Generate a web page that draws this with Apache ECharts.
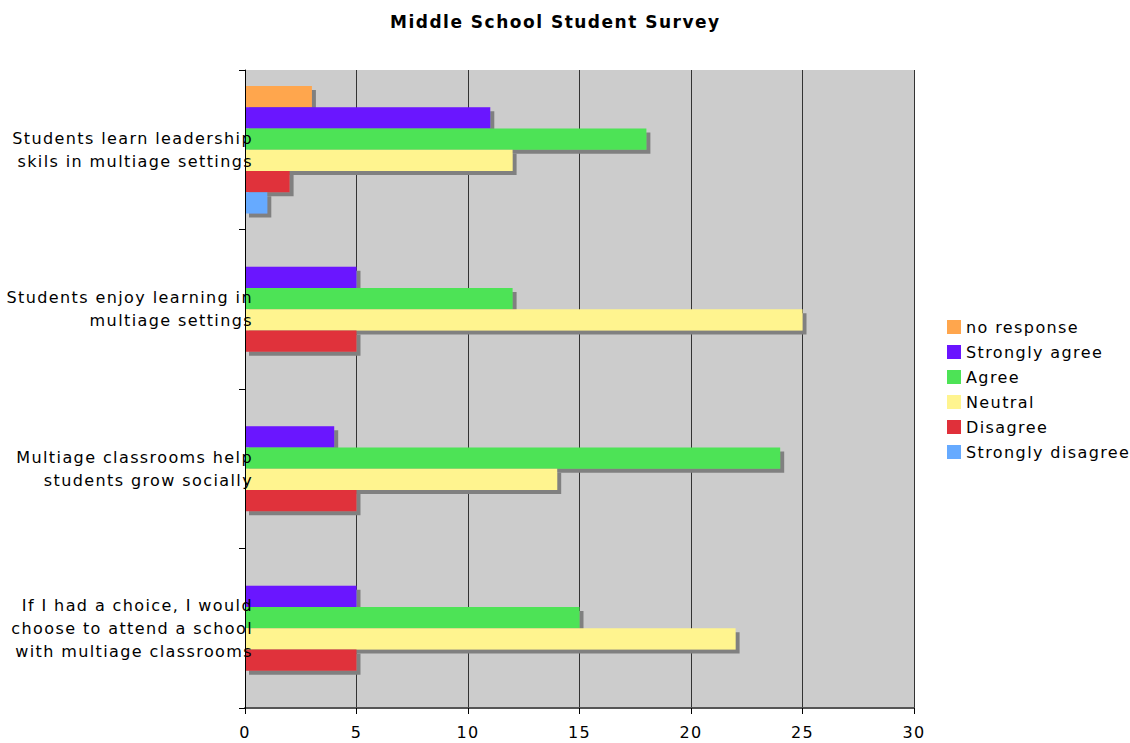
<!DOCTYPE html>
<html>
<head>
<meta charset="utf-8">
<script src="https://cdn.jsdelivr.net/npm/echarts@6/dist/echarts.min.js"></script>
<style>
html,body{margin:0;padding:0;background:#fff;}
#c{width:1130px;height:743px;}
#c svg text{letter-spacing:1.4px;}
#c svg text[style*="bold"], #c svg text[font-weight="bold"]{letter-spacing:1.5px;}
</style>
</head>
<body>
<div id="c"></div>
<script>
var categories = [
  "Students learn leadership\nskils in multiage settings",
  "Students enjoy learning in\nmultiage settings",
  "Multiage classrooms help\nstudents grow socially",
  "If I had a choice, I would\nchoose to attend a school\nwith multiage classrooms"
];
var seriesNames = ["no response", "Strongly agree", "Agree", "Neutral", "Disagree", "Strongly disagree"];
var noResponse = [3, 0, 0, 0];
var stronglyAgree = [11, 5, 4, 5];
var agree = [18, 12, 24, 15];
var neutral = [12, 25, 14, 22];
var disagree = [2, 5, 5, 5];
var stronglyDisagree = [1, 0, 0, 0];
var xTicks = [0, 5, 10, 15, 20, 25, 30];
var colors = ["#FFA64D", "#6A14FF", "#4DE356", "#FFF48F", "#E0303A", "#66AAFF"];

var values = [noResponse, stronglyAgree, agree, neutral, disagree, stronglyDisagree];
var font = "DejaVu Sans, Verdana, sans-serif";
var chart = echarts.init(document.getElementById('c'), null, {renderer: 'svg'});
chart.setOption({
  animation: false,
  backgroundColor: '#ffffff',
  title: {
    text: 'Middle School Student Survey',
    left: 390, top: 13, padding: 0,
    textStyle: {fontFamily: font, fontSize: 17, fontWeight: 'bold', color: '#000'}
  },
  legend: {
    orient: 'vertical',
    left: 947, top: 319, padding: 0,
    itemWidth: 14, itemHeight: 14, itemGap: 9,
    icon: 'rect',
    data: seriesNames,
    textStyle: {fontFamily: font, fontSize: 16, color: '#000', padding: [0, 0, 0, 0]}
  },
  grid: {
    left: 245, right: 216, top: 70, bottom: 35,
    show: true, backgroundColor: '#cccccc', borderWidth: 0
  },
  xAxis: {
    type: 'value', min: 0, max: 30, interval: 5,
    axisLine: {show: true, lineStyle: {color: '#555', width: 2}},
    axisTick: {show: true, length: 6, lineStyle: {color: '#000'}},
    axisLabel: {fontFamily: font, fontSize: 16, color: '#000', margin: 16,
      formatter: function (v) { return xTicks.indexOf(v) >= 0 ? String(v) : ''; }},
    splitLine: {show: true, lineStyle: {color: '#333', width: 1}}
  },
  yAxis: {
    type: 'category', inverse: true, data: categories, z: 10,
    axisLine: {show: true, lineStyle: {color: '#000', width: 1}},
    axisTick: {show: true, length: 6, lineStyle: {color: '#000'}},
    axisLabel: {fontFamily: font, fontSize: 16, color: '#000', lineHeight: 23, margin: -8, align: 'right'}
  },
  series: seriesNames.map(function (n, i) {
    return {
      name: n, type: 'bar', data: values[i],
      barGap: '0%', barCategoryGap: '20%',
      itemStyle: {color: colors[i], shadowColor: '#808080', shadowOffsetX: 4, shadowOffsetY: 4, shadowBlur: 0}
    };
  })
});
</script>
</body>
</html>
